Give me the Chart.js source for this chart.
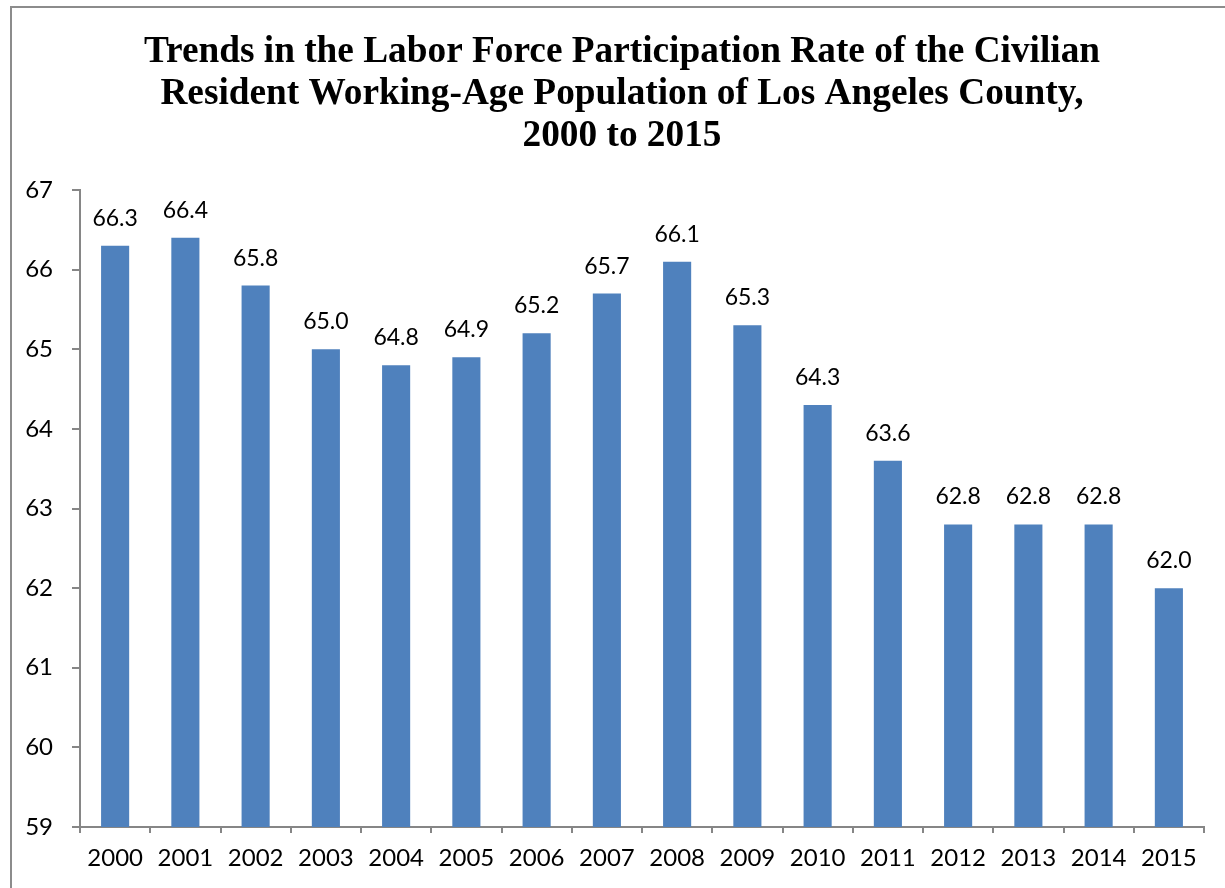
<!DOCTYPE html>
<html>
<head>
<meta charset="utf-8">
<script src="https://cdn.jsdelivr.net/npm/chart.js@4"></script>
<style>
    html, body { margin: 0; padding: 0; background: #fff; }
    #wrap { position: relative; width: 1225px; height: 888px; overflow: hidden; }
    #frame {
        position: absolute; left: 10px; top: 6px; width: 1240px; height: 900px;
        border: 2px solid #8c8c8c; box-sizing: border-box;
    }
    canvas { position: absolute; left: 0; top: 0; }
</style>
</head>
<body>
<div id="wrap">
    <div id="frame"></div>
    <canvas id="chart" width="1225" height="888"></canvas>
</div>
<script>
// Chart data
const years = ['2000', '2001', '2002', '2003', '2004', '2005', '2006', '2007',
               '2008', '2009', '2010', '2011', '2012', '2013', '2014', '2015'];
const rates = [66.3, 66.4, 65.8, 65.0, 64.8, 64.9, 65.2, 65.7,
               66.1, 65.3, 64.3, 63.6, 62.8, 62.8, 62.8, 62.0];
const titleLines = [
    'Trends in the Labor Force Participation Rate of the Civilian',
    'Resident Working-Age Population of Los Angeles County,',
    '2000 to 2015'
];
const yMin = 59;
const yMax = 67;

const sansFamily = 'Lato, "Open Sans", sans-serif';

// Title is centred on the outer frame, not on the plot, so draw it by hand
const frameTitle = {
    id: 'frameTitle',
    afterDraw(chart) {
        const ctx = chart.ctx;
        ctx.save();
        ctx.font = 'bold 37.3px "Liberation Serif", "Times New Roman", serif';
        ctx.fillStyle = '#000';
        ctx.textAlign = 'center';
        ctx.textBaseline = 'alphabetic';
        titleLines.forEach((line, i) => {
            ctx.fillText(line, 622, 62 + i * 42);
        });
        ctx.restore();
    }
};

// Draw value labels above each bar
const valueLabels = {
    id: 'valueLabels',
    afterDatasetsDraw(chart) {
        const ctx = chart.ctx;
        const meta = chart.getDatasetMeta(0);
        ctx.save();
        ctx.font = '23px ' + sansFamily;
        ctx.fillStyle = '#000';
        ctx.textAlign = 'center';
        ctx.textBaseline = 'alphabetic';
        meta.data.forEach((bar, i) => {
            ctx.fillText(rates[i].toFixed(1), bar.x, bar.y - 20);
        });
        ctx.restore();
    }
};

const ctx = document.getElementById('chart').getContext('2d');
new Chart(ctx, {
    type: 'bar',
    data: {
        labels: years,
        datasets: [{
            data: rates,
            backgroundColor: '#4F81BD',
            borderWidth: 0,
            categoryPercentage: 1.0,
            barPercentage: 0.4,
        }]
    },
    options: {
        responsive: false,
        animation: false,
        layout: { padding: { left: 0, right: 21, top: 190, bottom: 0 } },
        plugins: {
            legend: { display: false },
            tooltip: { enabled: false },
            title: { display: false },
        },
        scales: {
            x: {
                grid: { drawOnChartArea: false, tickLength: 6, color: '#868686', lineWidth: 2, offset: true },
                border: { color: '#868686', width: 2 },
                ticks: { color: '#000', font: { family: sansFamily, size: 24 }, padding: 11, maxRotation: 0 },
                afterFit(scale) { scale.height = 61; },
            },
            y: {
                min: yMin,
                max: yMax,
                ticks: { stepSize: 1, color: '#000', font: { family: sansFamily, size: 24 }, padding: 19 },
                grid: { drawOnChartArea: false, tickLength: 8, color: '#868686', lineWidth: 2 },
                border: { color: '#868686', width: 2 },
                afterFit(scale) { scale.width = 80; },
            }
        }
    },
    plugins: [valueLabels, frameTitle]
});
</script>
</body>
</html>
